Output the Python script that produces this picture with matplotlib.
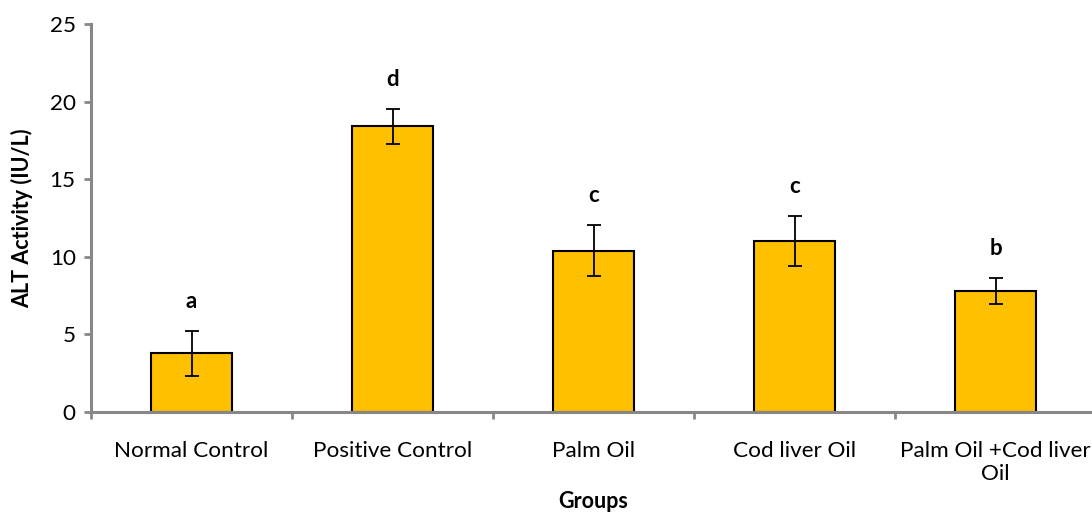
import numpy as np
import matplotlib.pyplot as plt
import matplotlib.ticker as ticker

groups = ['Normal Control', 'Positive Control', 'Palm Oil', 'Cod liver Oil', 'Palm Oil +Cod liver\nOil']
alt_mean = [3.8, 18.4, 10.4, 11.0, 7.8]
alt_err = [1.45, 1.15, 1.65, 1.6, 0.83]
letters = ['a', 'd', 'c', 'c', 'b']

plt.rcParams['font.family'] = ['Lato', 'DejaVu Sans']

fig = plt.figure(figsize=(10.92, 5.14), dpi=100)
ax = fig.add_axes([91 / 1092, 1 - 412 / 514, 1005 / 1092, (412 - 24) / 514])

x = np.arange(len(groups))
ax.bar(x, alt_mean, width=0.4, color='#FFC000', edgecolor='black', linewidth=1.5, zorder=2)
ax.errorbar(x, alt_mean, yerr=alt_err, fmt='none', ecolor='black', elinewidth=1.3,
            capsize=5, capthick=1.3, zorder=3)

# significance letters above error bars
for xi, m, e, l in zip(x, alt_mean, alt_err, letters):
    ax.text(xi, m + e + 1.9, l, ha='center', va='center', fontsize=16, fontweight='bold')

ax.set_xlim(-0.5, 4.5)
ax.set_ylim(0, 25)
ax.yaxis.set_major_locator(ticker.MultipleLocator(5))

ax.set_xticks(x)
ax.set_xticklabels(groups, fontsize=16.2, linespacing=1.2)
ax.set_xticks(np.arange(-0.5, 5, 1), minor=True)
ax.tick_params(axis='x', which='major', length=0, pad=21)
ax.tick_params(axis='x', which='minor', length=5, width=2, color='#878787')
ax.tick_params(axis='y', length=5, width=2, color='#878787', labelsize=16.2, pad=6)

for s in ['top', 'right']:
    ax.spines[s].set_visible(False)
for s in ['left', 'bottom']:
    ax.spines[s].set_color('#878787')
    ax.spines[s].set_linewidth(2.2)

ax.set_ylabel('ALT Activity (IU/L)', fontsize=15.5, fontweight='bold', labelpad=12)
ax.set_xlabel('Groups', fontsize=15.5, fontweight='bold', labelpad=5)

fig.savefig('out.png', dpi=100)
